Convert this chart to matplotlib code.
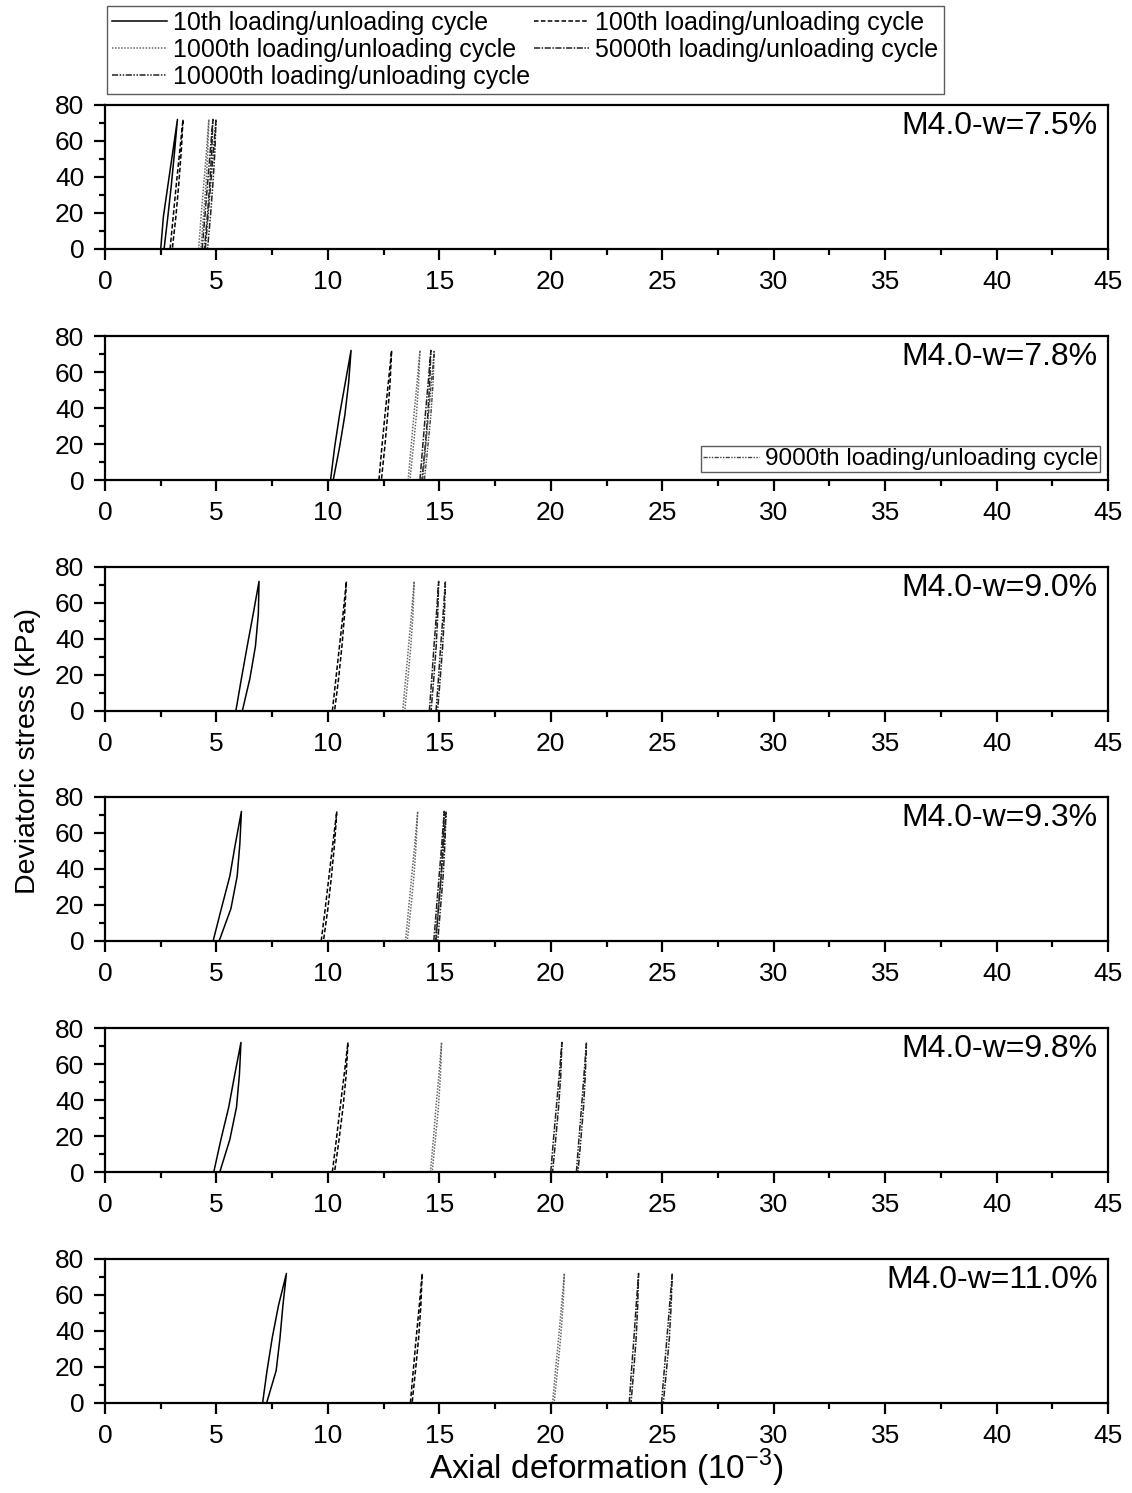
import matplotlib
matplotlib.use("Agg")
import matplotlib.pyplot as plt
from matplotlib.ticker import MultipleLocator
from matplotlib.lines import Line2D

plt.rcParams['font.family'] = ['Liberation Sans', 'DejaVu Sans']

# ---------------- data ----------------
PANEL_LABELS = ["M4.0-w=7.5%", "M4.0-w=7.8%", "M4.0-w=9.0%",
                "M4.0-w=9.3%", "M4.0-w=9.8%", "M4.0-w=11.0%"]
STRESS = [0, 18, 36, 54, 72]  # kPa levels at which the branches were read

CYCLE_NAMES = ["10th loading/unloading cycle", "100th loading/unloading cycle",
               "1000th loading/unloading cycle", "5000th loading/unloading cycle",
               "10000th loading/unloading cycle"]
LAST_CYCLE_NAME = ["10000th loading/unloading cycle", "9000th loading/unloading cycle",
                   "10000th loading/unloading cycle", "10000th loading/unloading cycle",
                   "10000th loading/unloading cycle", "10000th loading/unloading cycle"]

# axial deformation (1e-3) of loading branch at STRESS levels, per panel
LOAD_10 = [[2.50, 2.62, 2.83, 3.04, 3.25],
           [10.12, 10.30, 10.52, 10.78, 11.04],
           [5.87, 6.12, 6.38, 6.65, 6.91],
           [4.85, 5.22, 5.60, 5.85, 6.12],
           [4.88, 5.20, 5.55, 5.82, 6.10],
           [7.07, 7.27, 7.50, 7.78, 8.14]]
UNLOAD_10 = [[2.65, 2.82, 2.98, 3.12, 3.25],
             [10.24, 10.52, 10.76, 10.93, 11.04],
             [6.16, 6.50, 6.75, 6.88, 6.91],
             [5.12, 5.65, 5.93, 6.05, 6.12],
             [5.15, 5.60, 5.90, 6.03, 6.10],
             [7.25, 7.68, 7.85, 7.98, 8.14]]

LOAD_100 = [[2.92, 3.06, 3.20, 3.35, 3.50],
            [12.29, 12.42, 12.56, 12.71, 12.86],
            [10.20, 10.36, 10.52, 10.68, 10.83],
            [9.70, 9.88, 10.05, 10.22, 10.40],
            [10.20, 10.38, 10.55, 10.73, 10.90],
            [13.70, 13.83, 13.96, 14.10, 14.23]]
UNLOAD_100 = [[3.02, 3.18, 3.31, 3.42, 3.50],
              [12.40, 12.55, 12.68, 12.79, 12.86],
              [10.30, 10.48, 10.63, 10.75, 10.83],
              [9.80, 10.00, 10.16, 10.30, 10.40],
              [10.30, 10.50, 10.68, 10.82, 10.90],
              [13.78, 13.93, 14.07, 14.17, 14.23]]

LOAD_1000 = [[4.20, 4.31, 4.43, 4.55, 4.66],
             [13.60, 13.73, 13.86, 14.00, 14.13],
             [13.36, 13.49, 13.62, 13.75, 13.87],
             [13.48, 13.62, 13.76, 13.90, 14.03],
             [14.60, 14.73, 14.85, 14.98, 15.10],
             [20.08, 20.21, 20.35, 20.48, 20.61]]
UNLOAD_1000 = [[4.30, 4.42, 4.53, 4.61, 4.66],
               [13.68, 13.83, 13.97, 14.07, 14.13],
               [13.45, 13.59, 13.72, 13.82, 13.87],
               [13.56, 13.72, 13.86, 13.96, 14.03],
               [14.68, 14.82, 14.96, 15.05, 15.10],
               [20.15, 20.30, 20.44, 20.55, 20.61]]

LOAD_5000 = [[4.36, 4.48, 4.60, 4.72, 4.84],
             [14.13, 14.25, 14.37, 14.50, 14.62],
             [14.55, 14.66, 14.76, 14.87, 14.97],
             [14.75, 14.87, 14.99, 15.11, 15.22],
             [20.00, 20.12, 20.25, 20.38, 20.50],
             [23.52, 23.62, 23.73, 23.83, 23.94]]
UNLOAD_5000 = [[4.46, 4.59, 4.70, 4.79, 4.84],
               [14.22, 14.36, 14.48, 14.57, 14.62],
               [14.63, 14.75, 14.86, 14.93, 14.97],
               [14.83, 14.96, 15.08, 15.17, 15.22],
               [20.08, 20.22, 20.35, 20.45, 20.50],
               [23.60, 23.72, 23.83, 23.90, 23.94]]

# last cycle: 10000th (9000th in the w=7.8% panel)
LOAD_LAST = [[4.50, 4.62, 4.74, 4.86, 4.98],
             [14.25, 14.38, 14.51, 14.64, 14.77],
             [14.85, 14.96, 15.06, 15.17, 15.27],
             [14.85, 14.96, 15.08, 15.19, 15.30],
             [21.15, 21.26, 21.38, 21.49, 21.60],
             [24.97, 25.09, 25.21, 25.33, 25.45]]
UNLOAD_LAST = [[4.60, 4.73, 4.84, 4.93, 4.98],
               [14.33, 14.48, 14.62, 14.72, 14.77],
               [14.92, 15.04, 15.15, 15.23, 15.27],
               [14.93, 15.05, 15.17, 15.25, 15.30],
               [21.22, 21.35, 21.47, 21.55, 21.60],
               [25.05, 25.19, 25.32, 25.40, 25.45]]

# ---------------- styles ----------------
STYLES = {
    "10th loading/unloading cycle": dict(color="black", ls="-", lw=1.1),
    "100th loading/unloading cycle": dict(color="black", ls=(0, (3, 1.5)), lw=1.1),
    "1000th loading/unloading cycle": dict(color="#666666", ls=(0, (1, 1)), lw=1.1),
    "5000th loading/unloading cycle": dict(color="#222222", ls=(0, (4, 1, 1, 1)), lw=1.1),
    "10000th loading/unloading cycle": dict(color="#222222", ls=(0, (4, 1, 1, 1, 1, 1)), lw=1.1),
    "9000th loading/unloading cycle": dict(color="#444444", ls=(0, (3, 1, 1, 1, 1, 1)), lw=1.0),
}

W, H = 1132, 1493
fig = plt.figure(figsize=(W / 100, H / 100), dpi=100)

tops = [105, 336, 567, 797, 1028, 1259]
ax_h = 144
left_px, right_px = 105, 1108

axes = []
for i, top in enumerate(tops):
    ax = fig.add_axes([left_px / W, 1 - (top + ax_h) / H,
                       (right_px - left_px) / W, ax_h / H])
    axes.append(ax)
    series = [
        (CYCLE_NAMES[0], LOAD_10[i], UNLOAD_10[i]),
        (CYCLE_NAMES[1], LOAD_100[i], UNLOAD_100[i]),
        (CYCLE_NAMES[2], LOAD_1000[i], UNLOAD_1000[i]),
        (CYCLE_NAMES[3], LOAD_5000[i], UNLOAD_5000[i]),
        (LAST_CYCLE_NAME[i], LOAD_LAST[i], UNLOAD_LAST[i]),
    ]
    for name, ld, ul in series:
        xs = list(ld) + list(ul)[::-1]
        ys = list(STRESS) + list(STRESS)[::-1]
        ax.plot(xs, ys, **STYLES[name])
    ax.set_xlim(0, 45)
    ax.set_ylim(0, 80)
    ax.xaxis.set_major_locator(MultipleLocator(5))
    ax.xaxis.set_minor_locator(MultipleLocator(2.5))
    ax.yaxis.set_major_locator(MultipleLocator(20))
    ax.yaxis.set_minor_locator(MultipleLocator(10))
    ax.tick_params(which='both', direction='out', top=False, right=False,
                   width=1.6, labelsize=19, pad=7)
    ax.tick_params(which='major', length=8)
    ax.tick_params(which='minor', length=4.5)
    for s in ax.spines.values():
        s.set_linewidth(1.6)
    ax.text(0.990, 0.855, PANEL_LABELS[i], transform=ax.transAxes,
            ha='right', va='center', fontsize=23)

# panel-2 extra legend (9000th)
h9 = Line2D([], [], **STYLES["9000th loading/unloading cycle"])
leg2 = axes[1].legend([h9], ["9000th loading/unloading cycle"],
                      loc='lower right', bbox_to_anchor=(0.9925, 0.055),
                      fontsize=17.5, frameon=True, fancybox=False,
                      edgecolor='#333333', borderpad=0.08, handlelength=2.3,
                      handletextpad=0.25, borderaxespad=0.0)
leg2.get_frame().set_linewidth(1.0)

# main legend (row-wise order as in the reference: col1 = 10th, 1000th, 10000th)
order = [0, 2, 4, 1, 3]
handles = [Line2D([], [], **STYLES[CYCLE_NAMES[k]]) for k in order]
labels = [CYCLE_NAMES[k] for k in order]
leg = fig.legend(handles, labels, loc='upper left',
                 bbox_to_anchor=(107 / W, 1 - 6 / H), ncol=2,
                 fontsize=18, frameon=True, fancybox=False,
                 edgecolor='#333333', borderpad=0.2, labelspacing=0.12,
                 handlelength=2.2, handletextpad=0.25, columnspacing=0.15,
                 borderaxespad=0.0)
leg.get_frame().set_linewidth(1.0)

fig.text(606 / W, 1 - 1468 / H, r"Axial deformation (10$^{\mathregular{-3}}$)",
         ha='center', va='center', fontsize=24)
fig.text(28 / W, 1 - 751 / H, "Deviatoric stress (kPa)", rotation=90,
         ha='center', va='center', fontsize=20.5)

fig.savefig("out.png", dpi=100)
